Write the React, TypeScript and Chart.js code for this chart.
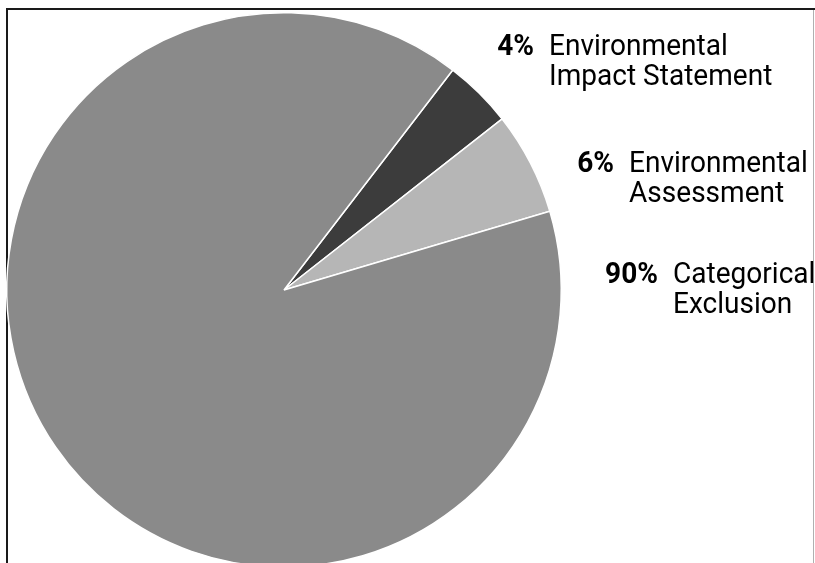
import React, { useEffect, useRef } from "react";
import { Chart, registerables } from "chart.js";

Chart.register(...registerables);

const categories = [
  "Environmental Impact Statement",
  "Environmental Assessment",
  "Categorical Exclusion",
];
const values = [4, 6, 90];
const labelLines = [
  ["Environmental", "Impact Statement"],
  ["Environmental", "Assessment"],
  ["Categorical", "Exclusion"],
];
const sliceColors = ["#3c3c3c", "#b6b6b6", "#8a8a8a"];

// layout of the text labels (left edge of the description, baseline of first line)
const labelAnchors = [
  { x: 549, y: 55 },
  { x: 629, y: 172 },
  { x: 673, y: 283 },
];

const SX = 0.935;

const framePlugin = {
  id: "framePlugin",
  beforeDraw(chart: any) {
    const ctx = chart.ctx as CanvasRenderingContext2D;
    const h = chart.height;
    ctx.save();
    ctx.fillStyle = "#ffffff";
    ctx.fillRect(0, 0, chart.width, h);
    ctx.strokeStyle = "#1a1a1a";
    ctx.lineWidth = 2;
    ctx.beginPath();
    ctx.moveTo(6, 9);
    ctx.lineTo(815, 9);
    ctx.stroke();
    ctx.beginPath();
    ctx.moveTo(7, 8);
    ctx.lineTo(7, h);
    ctx.stroke();
    ctx.strokeStyle = "#b0b0b0";
    ctx.lineWidth = 1;
    ctx.beginPath();
    ctx.moveTo(813.5, 10);
    ctx.lineTo(813.5, h);
    ctx.stroke();
    ctx.restore();
  },
  afterDraw(chart: any) {
    const ctx = chart.ctx as CanvasRenderingContext2D;
    ctx.save();
    ctx.fillStyle = "#000000";
    ctx.textBaseline = "alphabetic";
    ctx.scale(SX, 1);
    values.forEach((v, i) => {
      const a = labelAnchors[i];
      ctx.font = "bold 30px Roboto";
      ctx.textAlign = "right";
      ctx.fillText(`${v}%`, (a.x - 15) / SX, a.y);
      ctx.font = "30px Roboto";
      ctx.textAlign = "left";
      labelLines[i].forEach((line, j) => {
        ctx.fillText(line, a.x / SX, a.y + j * 30);
      });
    });
    ctx.restore();
  },
};

export default function App() {
  const canvasRef = useRef<HTMLCanvasElement | null>(null);

  useEffect(() => {
    if (!canvasRef.current) return;
    const chart = new Chart(canvasRef.current, {
      type: "pie",
      data: {
        labels: categories,
        datasets: [
          {
            data: values,
            backgroundColor: sliceColors,
            borderColor: "#ffffff",
            borderWidth: 1.5,
          },
        ],
      },
      options: {
        animation: false,
        responsive: true,
        maintainAspectRatio: false,
        rotation: 37.5,
        layout: { padding: { left: 6, right: 253, top: 12, bottom: 4 } },
        plugins: {
          legend: { display: false },
          tooltip: { enabled: false },
          title: { display: false },
        },
      },
      plugins: [framePlugin],
    });
    return () => chart.destroy();
  }, []);

  return (
    <div
      style={{
        position: "fixed",
        left: 0,
        top: 0,
        width: 815,
        height: 563,
        overflow: "hidden",
        background: "#fff",
      }}
    >
      <div style={{ position: "relative", width: 815, height: 572 }}>
        <canvas ref={canvasRef} />
      </div>
    </div>
  );
}
